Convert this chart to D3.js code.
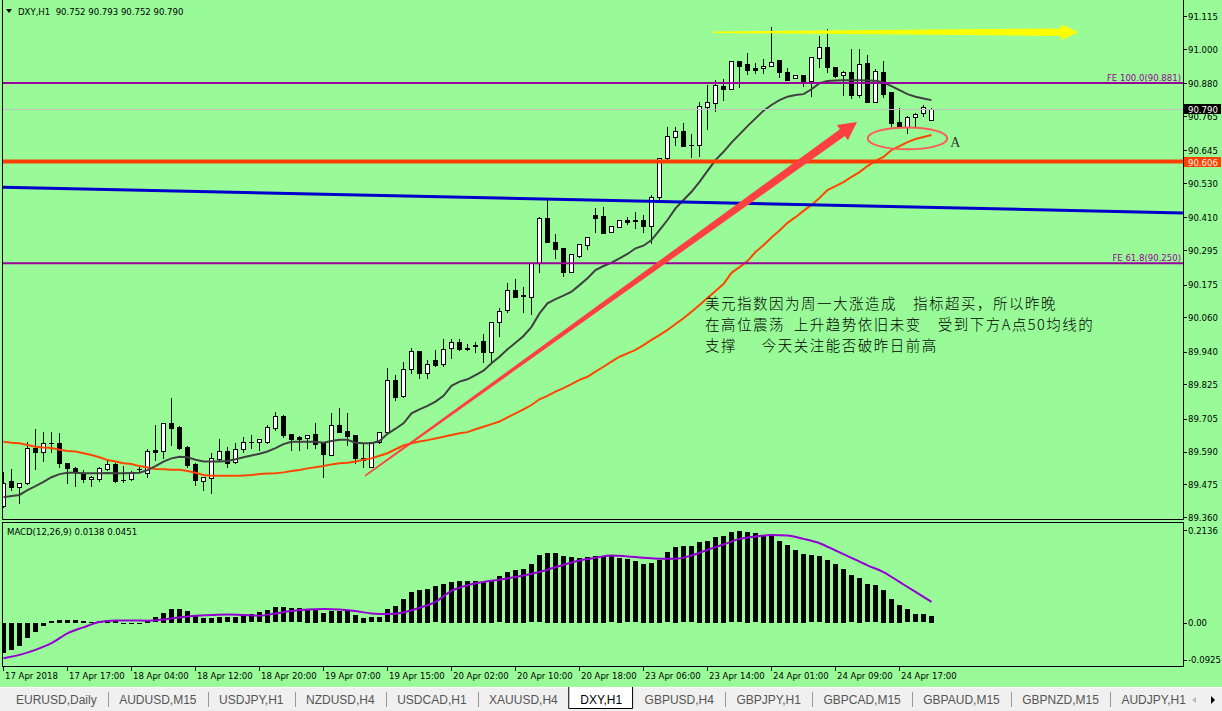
<!DOCTYPE html>
<html><head><meta charset="utf-8">
<script src="https://cdn.jsdelivr.net/npm/d3@7"></script>
<style>html,body{margin:0;padding:0;background:#98FB98;overflow:hidden}text{white-space:pre}</style>
</head><body><svg id="c" width="1222" height="711"></svg>
<script>
// ---------- DATA ----------
const symbolHeader = "DXY,H1  90.752 90.793 90.752 90.790";
const macdHeader = "MACD(12,26,9) 0.0138 0.0451";
const open = [89.400,89.487,89.467,89.479,89.601,89.587,89.619,89.619,89.549,89.531,
89.516,89.493,89.493,89.530,89.545,89.491,89.493,89.528,89.514,89.596,
89.593,89.691,89.677,89.607,89.547,89.488,89.499,89.564,89.592,89.552,
89.598,89.625,89.625,89.625,89.672,89.715,89.652,89.640,89.636,89.652,
89.619,89.578,89.683,89.662,89.648,89.566,89.537,89.622,89.657,89.841,
89.786,89.878,89.942,89.864,89.910,89.896,89.952,89.973,89.948,89.958,
89.976,89.940,90.043,90.085,90.155,90.137,90.130,90.249,90.407,90.323,
90.302,90.220,90.276,90.312,90.419,90.415,90.358,90.376,90.401,90.400,
90.401,90.380,90.483,90.617,90.691,90.713,90.665,90.664,90.798,90.810,
90.871,90.861,90.958,90.948,90.935,90.932,90.942,90.962,90.918,90.897,
90.908,90.888,90.967,91.006,90.936,90.909,90.921,90.839,90.950,90.816,
90.918,90.848,90.744,90.728,90.763,90.775,90.752];
const high = [89.520,89.528,89.479,89.625,89.668,89.659,89.659,89.654,89.549,89.535,
89.526,89.505,89.535,89.561,89.549,89.540,89.523,89.540,89.598,89.683,
89.691,89.777,89.680,89.610,89.549,89.502,89.584,89.633,89.607,89.619,
89.642,89.648,89.633,89.683,89.728,89.718,89.652,89.645,89.648,89.691,
89.621,89.726,89.742,89.726,89.648,89.619,89.622,89.660,89.882,89.858,
89.902,89.952,89.942,89.911,89.945,89.984,89.984,89.984,89.966,89.973,
90.002,90.043,90.092,90.182,90.195,90.165,90.249,90.411,90.477,90.352,
90.302,90.281,90.316,90.340,90.442,90.446,90.379,90.401,90.411,90.428,
90.419,90.489,90.620,90.728,90.728,90.740,90.702,90.816,90.873,90.892,
90.895,90.958,90.958,90.985,90.950,90.964,91.076,90.962,90.932,90.909,
90.908,90.971,91.047,91.069,90.936,90.924,90.999,91.000,90.979,90.929,
90.959,90.848,90.792,90.767,90.775,90.804,90.793];
const low = [89.397,89.455,89.409,89.477,89.528,89.558,89.590,89.537,89.481,89.470,
89.485,89.470,89.488,89.526,89.485,89.485,89.491,89.520,89.502,89.561,
89.566,89.613,89.598,89.537,89.473,89.456,89.446,89.557,89.537,89.549,
89.590,89.601,89.596,89.619,89.666,89.642,89.596,89.596,89.601,89.601,
89.502,89.578,89.660,89.613,89.549,89.535,89.535,89.619,89.654,89.771,
89.782,89.864,89.847,89.847,89.888,89.888,89.917,89.946,89.946,89.937,
89.905,89.899,89.993,90.080,90.133,90.080,90.071,90.220,90.323,90.269,
90.206,90.220,90.270,90.301,90.360,90.355,90.358,90.376,90.386,90.374,
90.358,90.319,90.465,90.615,90.664,90.662,90.623,90.625,90.720,90.784,
90.822,90.861,90.868,90.913,90.917,90.915,90.942,90.903,90.892,90.897,
90.871,90.835,90.938,90.921,90.903,90.839,90.827,90.831,90.813,90.816,
90.831,90.730,90.726,90.707,90.726,90.767,90.752];
const close = [89.481,89.467,89.479,89.601,89.590,89.619,89.620,89.549,89.531,89.520,
89.494,89.502,89.531,89.545,89.488,89.492,89.514,89.530,89.592,89.590,
89.689,89.674,89.601,89.543,89.491,89.500,89.566,89.592,89.551,89.599,
89.622,89.624,89.633,89.675,89.715,89.648,89.634,89.633,89.648,89.615,
89.582,89.683,89.660,89.646,89.566,89.561,89.622,89.657,89.841,89.782,
89.878,89.941,89.864,89.896,89.893,89.948,89.973,89.948,89.954,89.963,
89.938,90.043,90.081,90.155,90.133,90.135,90.249,90.407,90.323,90.298,
90.220,90.281,90.316,90.340,90.409,90.357,90.379,90.401,90.395,90.398,
90.381,90.481,90.617,90.695,90.713,90.662,90.663,90.800,90.814,90.874,
90.861,90.958,90.942,90.927,90.927,90.941,90.956,90.918,90.892,90.909,
90.888,90.971,91.006,90.936,90.906,90.921,90.839,90.948,90.813,90.923,
90.843,90.742,90.726,90.763,90.771,90.796,90.790];
const maFast = [89.430,89.434,89.438,89.455,89.469,89.484,89.500,89.511,89.516,89.516,
89.514,89.514,89.514,89.515,89.514,89.514,89.515,89.516,89.525,89.539,
89.555,89.566,89.572,89.570,89.561,89.555,89.555,89.555,89.557,89.563,
89.570,89.576,89.582,89.590,89.602,89.616,89.624,89.624,89.624,89.624,
89.621,89.627,89.631,89.631,89.621,89.619,89.619,89.627,89.652,89.670,
89.689,89.724,89.738,89.750,89.765,89.785,89.820,89.835,89.843,89.858,
89.873,89.899,89.922,89.948,89.971,89.995,90.027,90.074,90.109,90.124,
90.136,90.150,90.173,90.197,90.226,90.240,90.252,90.267,90.282,90.302,
90.311,90.331,90.366,90.401,90.442,90.471,90.500,90.535,90.573,90.611,
90.640,90.672,90.701,90.730,90.757,90.784,90.804,90.821,90.833,90.839,
90.842,90.859,90.880,90.888,90.890,90.891,90.891,90.891,90.890,90.889,
90.883,90.870,90.856,90.842,90.833,90.827,90.821];
const maSlow = [89.624,89.621,89.619,89.613,89.607,89.604,89.602,89.596,89.592,89.590,
89.584,89.578,89.570,89.560,89.555,89.549,89.546,89.539,89.534,89.529,
89.528,89.526,89.526,89.522,89.516,89.508,89.505,89.505,89.505,89.505,
89.506,89.508,89.511,89.513,89.514,89.517,89.522,89.525,89.531,89.535,
89.539,89.545,89.549,89.551,89.555,89.561,89.566,89.575,89.584,89.598,
89.611,89.619,89.625,89.630,89.636,89.642,89.648,89.654,89.658,89.668,
89.677,89.686,89.695,89.710,89.724,89.738,89.753,89.773,89.785,89.800,
89.812,89.826,89.841,89.852,89.870,89.887,89.905,89.922,89.934,89.946,
89.963,89.981,89.998,90.016,90.037,90.057,90.080,90.103,90.128,90.152,
90.177,90.216,90.236,90.257,90.289,90.313,90.340,90.364,90.391,90.411,
90.433,90.454,90.478,90.506,90.520,90.534,90.552,90.569,90.590,90.608,
90.622,90.646,90.660,90.674,90.685,90.692,90.699];
const macdHist = [-0.0700,-0.0625,-0.0533,-0.0342,-0.0205,-0.0075,0.0047,0.0062,0.0062,0.0062,
0.0039,0.0024,0.0039,0.0062,0.0062,-0.0030,-0.0014,-0.0014,0.0062,0.0123,
0.0230,0.0314,0.0314,0.0268,0.0161,0.0115,0.0115,0.0138,0.0123,0.0138,
0.0161,0.0192,0.0238,0.0291,0.0352,0.0352,0.0329,0.0329,0.0314,0.0291,
0.0215,0.0268,0.0268,0.0268,0.0176,0.0115,0.0123,0.0123,0.0306,0.0383,
0.0543,0.0703,0.0749,0.0787,0.0840,0.0901,0.0939,0.0970,0.0970,0.0970,
0.0939,0.0993,0.1069,0.1168,0.1222,0.1237,0.1344,0.1550,0.1611,0.1611,
0.1535,0.1512,0.1496,0.1512,0.1535,0.1535,0.1527,0.1496,0.1458,0.1413,
0.1359,0.1374,0.1451,0.1619,0.1741,0.1756,0.1756,0.1855,0.1893,0.1985,
0.2008,0.2084,0.2107,0.2092,0.2061,0.2008,0.2008,0.1893,0.1802,0.1680,
0.1588,0.1550,0.1527,0.1451,0.1359,0.1245,0.1092,0.1039,0.0886,0.0863,
0.0749,0.0558,0.0405,0.0306,0.0192,0.0192,0.0154];
const signalBars = [0,2,4,6,8,10,12,14,16,18,20,22,24,26,28,30,32,34,36,38,40,42,44,46,48,50,52,54,56,58,
60,62,64,66,68,70,72,74,76,78,80,82,84,86,88,90,92,94,96,98,100,102,104,106,108,110,112,114,116];
const signalVals = [-0.0816,-0.0740,-0.0625,-0.0472,-0.0243,-0.0106,0.0016,0.0054,0.0054,0.0047,
0.0077,0.0123,0.0161,0.0176,0.0192,0.0176,0.0161,0.0215,0.0268,0.0306,
0.0314,0.0306,0.0268,0.0215,0.0200,0.0238,0.0344,0.0482,0.0733,0.0863,
0.0939,0.0993,0.1054,0.1130,0.1222,0.1336,0.1435,0.1496,0.1550,0.1527,
0.1496,0.1474,0.1474,0.1550,0.1680,0.1802,0.1931,0.1985,0.2023,0.2008,
0.1931,0.1832,0.1664,0.1496,0.1321,0.1168,0.0939,0.0710,0.0482];
const priceTicks = ["91.115","91.000","90.880","90.765","90.645","90.530","90.410","90.295","90.175","90.060","89.940","89.825","89.705","89.590","89.475","89.360"];
const macdTicks = ["0.2136","0.00","-0.0925"];
const timeLabels = ["17 Apr 2018","17 Apr 17:00","18 Apr 04:00","18 Apr 12:00","18 Apr 20:00","19 Apr 07:00","19 Apr 15:00","20 Apr 02:00","20 Apr 10:00","20 Apr 18:00","23 Apr 06:00","23 Apr 14:00","24 Apr 01:00","24 Apr 09:00","24 Apr 17:00"];
const timeLabelBars = [0,8,16,24,32,40,48,56,64,72,80,88,96,104,112];
const feLevels = [90.881, 90.250];
const feNames = ["FE 100.0(90.881)", "FE 61.8(90.250)"];
const supportLevel = 90.606;
const bidPrice = 90.790;
const blueTrend = [[0, 90.516], [147.5, 90.426]];
const yellowArrow = [[88.75, 91.059], [134.4, 91.059]];
const redArrow = [[45.25, 89.5045], [106.75, 90.744]];
const ellipseA = {bar: 113.06, price: 90.687, bars: 4.97, prices: 0.0385};
const labelA = {bar: 118.4, price: 90.676, text: "A"};
const noteAnchor = {bar: 87.75, price: 90.089};
const noteLines = ["美元指数因为周一大涨造成\u3000指标超买，所以昨晚",
  "在高位震荡\u2002上升趋势依旧未变\u3000受到下方A点50均线的",
  "支撑\u3000\u2002今天关注能否破昨日前高"];
const tabs = ["EURUSD,Daily","AUDUSD,M15","USDJPY,H1","NZDUSD,H4","USDCAD,H1","XAUUSD,H4","DXY,H1","GBPUSD,H4","GBPJPY,H1","GBPCAD,M15","GBPAUD,M15","GBPNZD,M15","AUDJPY,H1"];
const activeTab = "DXY,H1";

// ---------- SCALES ----------
const GREEN = "#98FB98";
const FONT = "'DejaVu Sans Condensed', 'DejaVu Sans', sans-serif";
const FS = 9.5;
const TABFONT = "'Liberation Sans', Arial, sans-serif";
const svg = d3.select("#c");
const x = d3.scaleLinear().domain([0, 147.5]).range([3, 1183]);
const y = d3.scaleLinear().domain([89.360, 91.115]).range([517.2, 16.2]);
const ym = d3.scaleLinear().domain([-0.0925, 0.2136]).range([662.9, 530]);
const idx = d3.range(open.length);
const txt = sel => sel.attr("font-family", FONT).attr("font-stretch", "condensed").attr("font-size", FS);

svg.append("rect").attr("width", 1222).attr("height", 711).attr("fill", GREEN);
const defs = svg.append("defs");
defs.append("clipPath").attr("id", "mainClip").append("rect").attr("x", 3).attr("y", 1).attr("width", 1180).attr("height", 518);
defs.append("clipPath").attr("id", "macdClip").append("rect").attr("x", 3).attr("y", 523).attr("width", 1180).attr("height", 143);

// ---------- MAIN PANEL ----------
const main = svg.append("g").attr("clip-path", "url(#mainClip)");
const cg = main.append("g").attr("shape-rendering", "crispEdges");
const ry = v => Math.round(y(v));
cg.selectAll("rect.w").data(idx).join("rect").attr("class", "w")
  .attr("x", i => x(i)).attr("width", 1)
  .attr("y", i => ry(high[i])).attr("height", i => Math.max(1, ry(low[i]) - ry(high[i]) + 1))
  .attr("fill", "#000");
cg.selectAll("rect.b").data(idx).join("rect").attr("class", "b")
  .attr("x", i => x(i) - 2).attr("width", 5)
  .attr("y", i => ry(Math.max(open[i], close[i])))
  .attr("height", i => Math.max(1, ry(Math.min(open[i], close[i])) - ry(Math.max(open[i], close[i])) + 1))
  .attr("fill", "#000");
const bulls = idx.filter(i => close[i] > open[i] && ry(open[i]) - ry(close[i]) >= 2);
cg.selectAll("rect.i").data(bulls).join("rect").attr("class", "i")
  .attr("x", i => x(i) - 1).attr("width", 3)
  .attr("y", i => ry(close[i]) + 1)
  .attr("height", i => Math.max(1, ry(open[i]) - ry(close[i]) - 1))
  .attr("fill", "#fff");

const line = d3.line().x((d, i) => x(i) + 0.5).y(d => y(d));
main.append("path").datum(maSlow).attr("d", line).attr("fill", "none").attr("stroke", "#FF4500").attr("stroke-width", 2);
main.append("path").datum(maFast).attr("d", line).attr("fill", "none").attr("stroke", "#404040").attr("stroke-width", 2);

// horizontal levels
main.selectAll("line.fe").data(feLevels).join("line").attr("class", "fe")
  .attr("x1", 3).attr("x2", 1183).attr("y1", d => y(d)).attr("y2", d => y(d))
  .attr("stroke", "#990099").attr("stroke-width", 2);
main.append("line").attr("x1", 3).attr("x2", 1183).attr("y1", Math.round(y(bidPrice)) + 0.5).attr("y2", Math.round(y(bidPrice)) + 0.5)
  .attr("stroke", "#C0C0C0").attr("stroke-width", 1);
main.append("line").attr("x1", 3).attr("x2", 1183).attr("y1", y(supportLevel)).attr("y2", y(supportLevel))
  .attr("stroke", "#FF4000").attr("stroke-width", 4);
main.append("line").attr("x1", x(blueTrend[0][0])).attr("y1", y(blueTrend[0][1]))
  .attr("x2", x(blueTrend[1][0])).attr("y2", y(blueTrend[1][1]))
  .attr("stroke", "#0000CC").attr("stroke-width", 3);

main.selectAll("text.fe").data(feLevels).join("text").attr("class", "fe")
  .attr("x", 1181).attr("y", d => y(d) - 2.5).attr("text-anchor", "end")
  .call(txt).attr("fill", "#990099")
  .text((d, i) => feNames[i]);

// arrows
function taper(p0, p1, w0, w1, headLen, headHalf) {
  const [x0, y0] = p0, [x1, y1] = p1;
  const L = Math.hypot(x1 - x0, y1 - y0), ux = (x1 - x0) / L, uy = (y1 - y0) / L, nx = -uy, ny = ux;
  const bx = x1 - ux * headLen, by = y1 - uy * headLen;
  return [[x0 + nx * w0 / 2, y0 + ny * w0 / 2], [bx + nx * w1 / 2, by + ny * w1 / 2], [bx + nx * headHalf, by + ny * headHalf],
    [x1, y1], [bx - nx * headHalf, by - ny * headHalf], [bx - nx * w1 / 2, by - ny * w1 / 2], [x0 - nx * w0 / 2, y0 - ny * w0 / 2]];
}
const toPx = p => [x(p[0]), y(p[1])];
main.append("polygon").attr("points", taper(toPx(yellowArrow[0]), toPx(yellowArrow[1]), 1.5, 7.5, 17, 8).join(" ")).attr("fill", "#FFFF00");
main.append("polygon").attr("points", taper(toPx(redArrow[0]), toPx(redArrow[1]), 1.5, 8.5, 18, 9.5).join(" ")).attr("fill", "#FF4040");
main.append("ellipse").attr("cx", x(ellipseA.bar)).attr("cy", y(ellipseA.price))
  .attr("rx", x(ellipseA.bars) - x(0)).attr("ry", y(0) - y(ellipseA.prices))
  .attr("fill", "none").attr("stroke", "#FF5A5A").attr("stroke-width", 2);
main.append("text").attr("x", x(labelA.bar)).attr("y", y(labelA.price) + 5)
  .attr("font-family", "'Liberation Serif', serif").attr("font-size", 14).attr("fill", "#333").text(labelA.text);

const note = main.append("text").attr("font-family", "'Noto Sans CJK SC', sans-serif").attr("font-size", 14.5)
  .attr("letter-spacing", 1.5).attr("font-weight", 300).attr("fill", "#000");
note.selectAll("tspan").data(noteLines).join("tspan")
  .attr("x", x(noteAnchor.bar)).attr("y", (d, i) => y(noteAnchor.price) + i * 21).text(d => d);

// header
svg.append("polygon").attr("points", "6,9 12,9 9,13").attr("fill", "#000");
svg.append("text").attr("x", 18).attr("y", 15).call(txt).attr("fill", "#000").text(symbolHeader);

// frames
svg.append("path").attr("d", "M2.5,0 V519.5 H1183.5 V0").attr("fill", "none").attr("stroke", "#000").attr("stroke-width", 1);
svg.append("rect").attr("x", 2.5).attr("y", 522.5).attr("width", 1181).attr("height", 144).attr("fill", "none").attr("stroke", "#000");

// price axis
const pa = svg.append("g");
pa.selectAll("line").data(priceTicks).join("line").attr("x1", 1183).attr("x2", 1187)
  .attr("y1", d => Math.round(y(+d)) + 0.5).attr("y2", d => Math.round(y(+d)) + 0.5).attr("stroke", "#000");
pa.selectAll("text").data(priceTicks).join("text").attr("x", 1188).attr("y", d => y(+d) + 3.5)
  .call(txt).attr("fill", "#000").text(d => d);
// price boxes
function priceBox(v, bg, fg) {
  const cy = Math.round(y(v));
  svg.append("rect").attr("x", 1184).attr("y", cy - 5).attr("width", 37).attr("height", 10).attr("fill", bg);
  svg.append("text").attr("x", 1188).attr("y", cy + 3.5).call(txt).attr("fill", fg).text(v.toFixed(3));
}
priceBox(bidPrice, "#000", "#fff");
priceBox(supportLevel, "#FF4000", "#FFF4E8");

// ---------- MACD PANEL ----------
const mp = svg.append("g").attr("clip-path", "url(#macdClip)");
mp.append("g").attr("shape-rendering", "crispEdges").selectAll("rect").data(idx).join("rect")
  .attr("x", i => x(i) - 2).attr("width", 5)
  .attr("y", i => Math.round(Math.min(ym(0), ym(macdHist[i]))))
  .attr("height", i => Math.max(1, Math.round(Math.abs(ym(0) - ym(macdHist[i])))))
  .attr("fill", "#000");
mp.append("path").datum(signalVals)
  .attr("d", d3.line().x((d, i) => x(signalBars[i]) + 0.5).y(d => ym(d)).curve(d3.curveMonotoneX))
  .attr("fill", "none").attr("stroke", "#9400D3").attr("stroke-width", 2);
svg.append("text").attr("x", 7).attr("y", 535).call(txt).attr("fill", "#000").text(macdHeader);
const ma = svg.append("g");
ma.selectAll("line").data(macdTicks).join("line").attr("x1", 1183).attr("x2", 1187)
  .attr("y1", (d, i) => Math.round(ym(+d)) + 0.5 - (i === 2 ? 3 : 0)).attr("y2", (d, i) => Math.round(ym(+d)) + 0.5 - (i === 2 ? 3 : 0)).attr("stroke", "#000");
ma.selectAll("text").data(macdTicks).join("text").attr("x", 1188).attr("y", (d, i) => ym(+d) + 3.5 - (i === 2 ? 3 : 0))
  .call(txt).attr("fill", "#000").text(d => d);

// time axis
const ta = svg.append("g");
ta.selectAll("line").data(timeLabelBars).join("line").attr("x1", d => x(d) + 0.5).attr("x2", d => x(d) + 0.5)
  .attr("y1", 667).attr("y2", 671).attr("stroke", "#000");
ta.selectAll("text").data(timeLabels).join("text").attr("x", (d, i) => x(timeLabelBars[i]) + 2).attr("y", 679)
  .call(txt).attr("fill", "#000").text(d => d);

// ---------- TABS ----------
svg.append("rect").attr("x", 0).attr("y", 687).attr("width", 1222).attr("height", 24).attr("fill", "#F0F0F0");
svg.append("line").attr("x1", 0).attr("x2", 1222).attr("y1", 687.5).attr("y2", 687.5).attr("stroke", "#fff");
const tg = svg.append("g");
let tx = 16;
tabs.forEach((name, i) => {
  const isActive = name === activeTab;
  const bg = tg.append("g");
  const t = tg.append("text").attr("x", tx).attr("y", 704).attr("font-family", TABFONT).attr("font-size", 12)
    .attr("fill", isActive ? "#000" : "#555").text(name);
  const w = t.node().getComputedTextLength();
  if (isActive) {
    bg.append("path").attr("d", `M${tx - 11.5},687 V708.5 H${tx + w + 10.5} V687`).attr("fill", "#fff").attr("stroke", "#000");
  } else if (i < tabs.length - 1 && tabs[i + 1] !== activeTab) {
    tg.append("line").attr("x1", Math.round(tx + w + 11) + 0.5).attr("x2", Math.round(tx + w + 11) + 0.5)
      .attr("y1", 692).attr("y2", 707).attr("stroke", "#999");
  }
  tx += w + 22.5;
});
svg.append("polygon").attr("points", "1196,697 1196,703 1192,700").attr("fill", "#bbb");
svg.append("polygon").attr("points", "1211,696 1211,704 1215,700").attr("fill", "#000");
</script></body></html>
